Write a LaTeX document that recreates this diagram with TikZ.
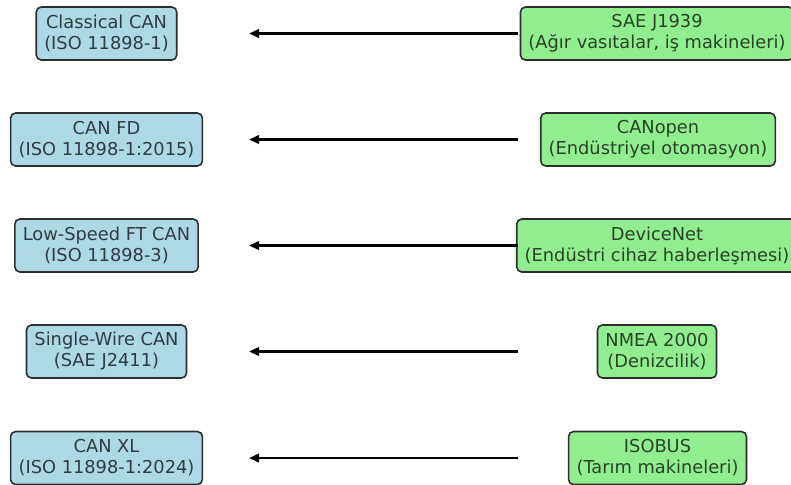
\documentclass[tikz,border=0pt]{standalone}
\usepackage{fontspec}
\setmainfont{DejaVu Sans}
\usepackage{tikz}
\usetikzlibrary{arrows.meta,positioning}
\definecolor{lblue}{HTML}{ADD8E6}
\definecolor{lgreen}{HTML}{90EE90}
\definecolor{edge}{HTML}{2E2E2E}
\begin{document}
\begin{tikzpicture}[x=0.5pt,y=-0.5pt,
  box/.style={draw=edge,line width=0.8pt,rounded corners=2.5pt,align=center,
    inner xsep=4pt,inner ysep=2pt,minimum height=26.5pt,
    font=\fontsize{8.9}{10.5}\selectfont},
  proto/.style={box,fill=lblue,text=black!72!lblue},
  appl/.style={box,fill=lgreen,text=black!72!lgreen},
  arrow/.style={-{Triangle[length=5pt,width=4.2pt]},line width=1.2pt,draw=black}]
\useasboundingbox (0,0) rectangle (791,484);
% left column: CAN variants
\node[proto] (classic) at (106.5,33.5) {Classical CAN\\(ISO 11898-1)};
\node[proto] (canfd) at (106.5,139.5) {CAN FD\\(ISO 11898-1:2015)};
\node[proto] (lowspeed) at (106.5,245.5) {Low-Speed FT CAN\\(ISO 11898-3)};
\node[proto] (singlewire) at (106.5,351.5) {Single-Wire CAN\\(SAE J2411)};
\node[proto] (canxl) at (106.5,458) {CAN XL\\(ISO 11898-1:2024)};
% right column: higher layer protocols
\node[appl] (sae) at (657,33.5) {SAE J1939\\(Ağır vasıtalar, iş makineleri)};
\node[appl] (canopen) at (658,139.5) {CANopen\\(Endüstriyel otomasyon)};
\node[appl] (devnet) at (657,245.5) {DeviceNet\\(Endüstri cihaz haberleşmesi)};
\node[appl] (nmea) at (657,351.5) {NMEA 2000\\(Denizcilik)};
\node[appl] (isobus) at (657.5,458) {ISOBUS\\(Tarım makineleri)};
% arrows
\coordinate (tail) at (518,0);
\coordinate (head) at (249,0);
\draw[arrow] (tail |- sae) -- (head |- classic);
\draw[arrow] (tail |- canopen) -- (head |- canfd);
\draw[arrow] (tail |- devnet) -- (head |- lowspeed);
\draw[arrow] (tail |- nmea) -- (head |- singlewire);
\draw[arrow] (tail |- isobus) -- (head |- canxl);
\end{tikzpicture}
\end{document}
